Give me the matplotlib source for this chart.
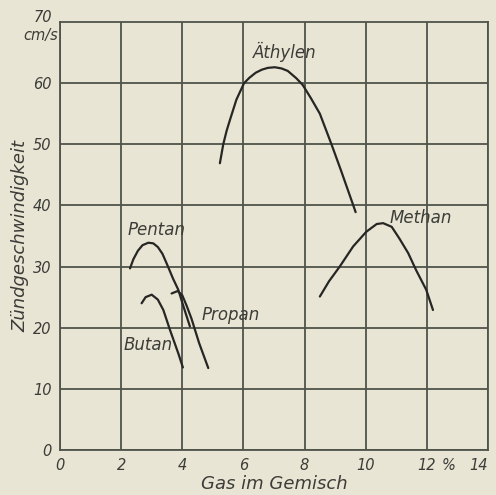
import matplotlib
matplotlib.use("Agg")
import matplotlib.pyplot as plt

# ---- data ----
aethylen_x = [5.23, 5.34, 5.45, 5.56, 5.77, 6.02, 6.2, 6.4, 6.6, 6.8, 7.03, 7.25, 7.45, 7.73, 7.94, 8.2, 8.5, 8.88, 9.2, 9.58, 9.67]
aethylen_y = [46.9, 50.0, 52.2, 54.0, 57.3, 60.0, 60.9, 61.7, 62.2, 62.5, 62.6, 62.4, 62.0, 60.8, 59.7, 57.6, 55.0, 50.0, 45.6, 40.2, 38.9]

methan_x = [8.5, 8.8, 9.15, 9.59, 10.02, 10.36, 10.57, 10.85, 11.1, 11.39, 11.65, 11.98, 12.2]
methan_y = [25.1, 27.6, 30.0, 33.3, 35.7, 36.96, 37.1, 36.5, 34.6, 32.2, 29.4, 26.2, 22.9]

pentan_x = [2.29, 2.4, 2.55, 2.7, 2.89, 3.05, 3.2, 3.35, 3.49, 3.7, 3.87, 4.05, 4.25]
pentan_y = [29.7, 31.2, 32.6, 33.5, 33.9, 33.8, 33.2, 32.1, 30.5, 28.0, 26.2, 23.3, 20.2]

butan_x = [2.67, 2.8, 3.0, 3.2, 3.38, 3.6, 3.87, 4.02]
butan_y = [24.0, 25.0, 25.4, 24.6, 22.9, 19.6, 15.8, 13.5]

propan_x = [3.65, 3.85, 4.0, 4.15, 4.3, 4.55, 4.85]
propan_y = [25.6, 26.0, 25.3, 23.5, 21.5, 17.5, 13.4]

curve_names = ["Äthylen", "Methan", "Pentan", "Butan", "Propan"]
label_x = [7.36, 11.8, 3.17, 2.88, 5.59]
label_y = [65.1, 37.9, 36.0, 17.2, 22.1]

x_ticks = [0, 2, 4, 6, 8, 10, 12, 14]
x_ticklabels = ["0", "2", "4", "6", "8", "10", "12", "14"]
y_ticks = [0, 10, 20, 30, 40, 50, 60]
y_ticklabels = ["0", "10", "20", "30", "40", "50", "60"]

bg = "#e9e5d5"
grid_c = "#50534b"
curve_c = "#262624"
text_c = "#3c3d38"

fig = plt.figure(figsize=(4.96, 4.95), dpi=100, facecolor=bg)
ax = fig.add_axes([60/496, 45/495, 428/496, 428/495])
ax.set_facecolor(bg)
ax.set_xlim(0, 14)
ax.set_ylim(0, 70)

ax.set_xticks(x_ticks)
ax.set_yticks(y_ticks)
ax.grid(True, color=grid_c, linewidth=1.3)
ax.set_axisbelow(True)
for s in ax.spines.values():
    s.set_color(grid_c)
    s.set_linewidth(1.3)
ax.tick_params(length=0, pad=6)

font = dict(style="italic", color=text_c, fontsize=10.5)
ax.set_xticklabels(x_ticklabels, **font)
ax.set_yticklabels(y_ticklabels, **font)
xt = ax.get_xticklabels()
xt[-1].set_ha("right")
ax.text(-0.26, 70.8, "70", ha="right", va="center", **font)
ax.text(-0.05, 67.8, "cm/s", ha="right", va="center", **font)
ax.text(12.72, -2.6, "%", ha="center", va="center", **font)

ax.set_xlabel("Gas im Gemisch", fontsize=13, style="italic", color=text_c, labelpad=1)
ax.set_ylabel("Zündgeschwindigkeit", fontsize=13, style="italic", color=text_c, labelpad=3)

for xs, ys in [(aethylen_x, aethylen_y), (methan_x, methan_y), (pentan_x, pentan_y),
               (butan_x, butan_y), (propan_x, propan_y)]:
    ax.plot(xs, ys, color=curve_c, linewidth=1.6, solid_capstyle="round", solid_joinstyle="round")

for name, lx, ly in zip(curve_names, label_x, label_y):
    ax.text(lx, ly, name, ha="center", va="center", fontsize=12, style="italic", color=text_c)

fig.savefig("out.png", dpi=100, facecolor=bg)
